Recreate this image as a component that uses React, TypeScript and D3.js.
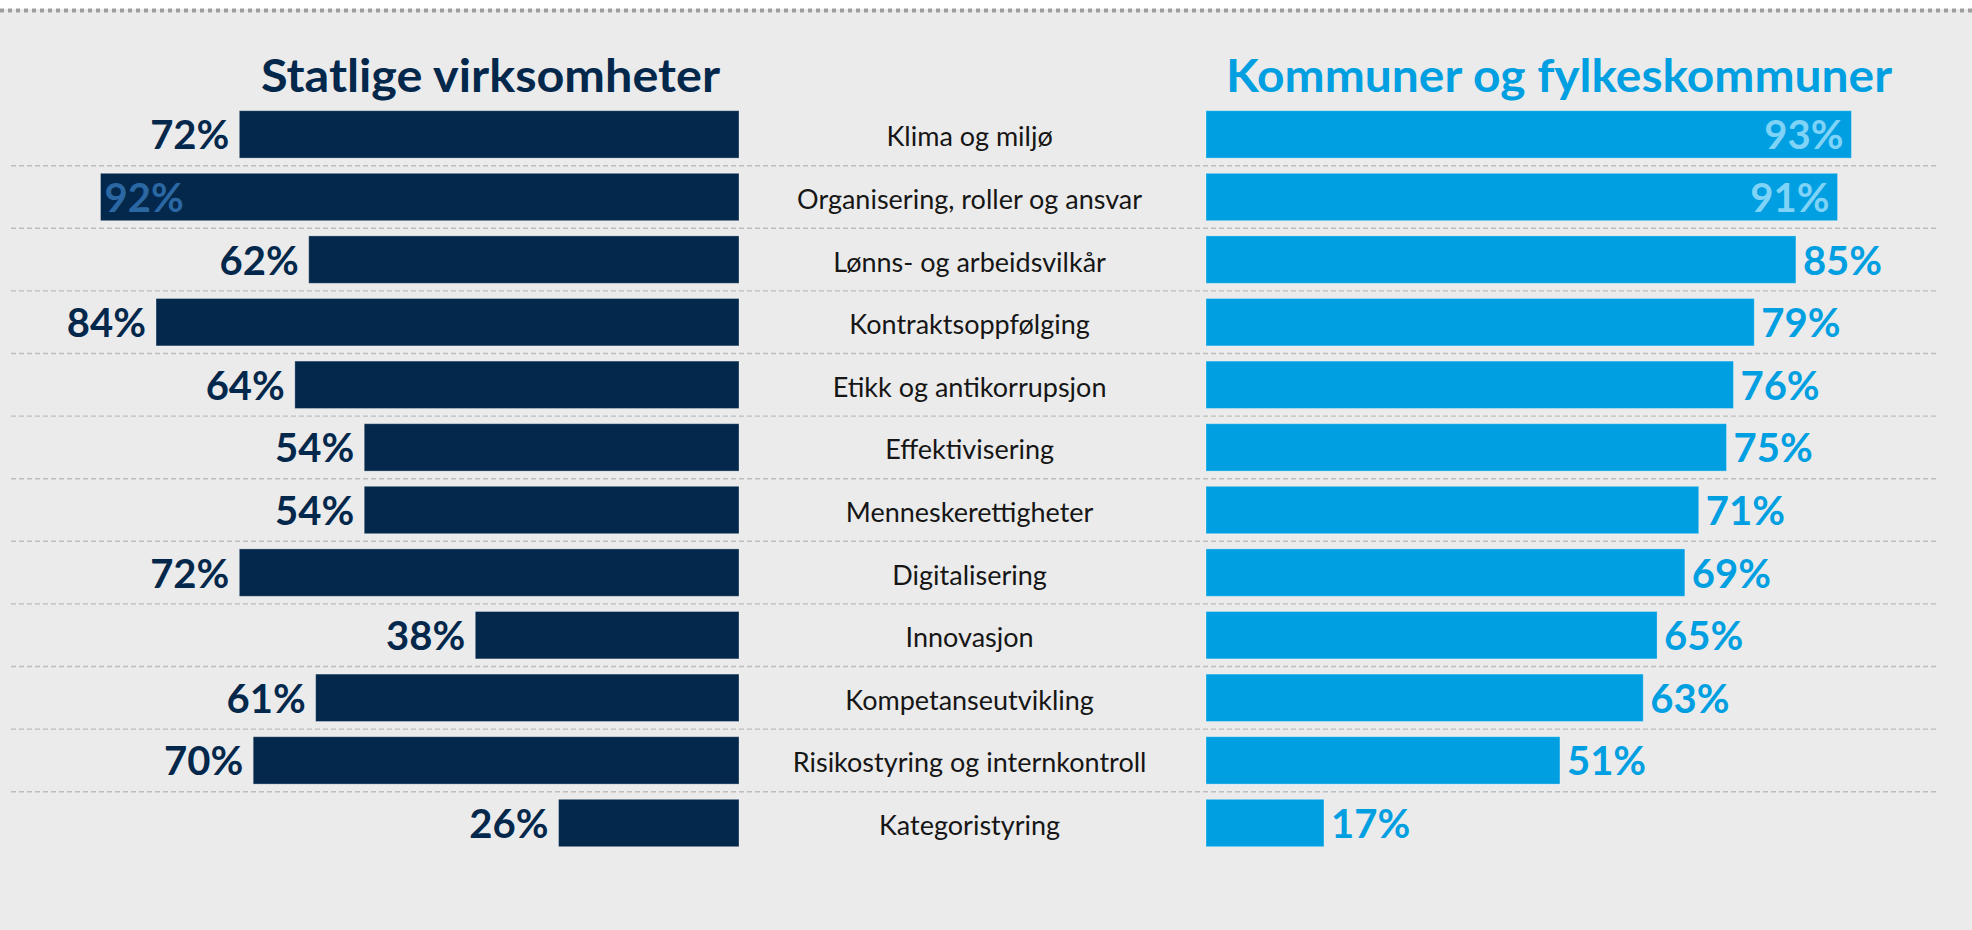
import * as d3 from "d3";

const categories = [
  "Klima og miljø",
  "Organisering, roller og ansvar",
  "Lønns- og arbeidsvilkår",
  "Kontraktsoppfølging",
  "Etikk og antikorrupsjon",
  "Effektivisering",
  "Menneskerettigheter",
  "Digitalisering",
  "Innovasjon",
  "Kompetanseutvikling",
  "Risikostyring og internkontroll",
  "Kategoristyring",
];
const statlige = [72, 92, 62, 84, 64, 54, 54, 72, 38, 61, 70, 26];
const kommuner = [93, 91, 85, 79, 76, 75, 71, 69, 65, 63, 51, 17];
const titles = ["Statlige virksomheter", "Kommuner og fylkeskommuner"];

const W = 1972;
const H = 930;
const dark = "#03284b";
const light = "#009fe1";
const FONT = "Lato, 'Open Sans', sans-serif";

export default function App() {
  const step = 62.6;
  const top = 103.1;
  const y = d3
    .scaleBand<string>()
    .domain(categories)
    .range([top, top + step * categories.length])
    .paddingInner(0.243)
    .paddingOuter(0.1215);

  // left panel grows leftwards from its right edge
  const xL = d3.scaleLinear().domain([0, 100]).range([739, 45]);
  const xR = d3.scaleLinear().domain([0, 100]).range([1206, 1900]);
  const midX = 969.6;
  const inside = 90;

  const seps = categories.slice(1).map((c) => (y(c) as number) - (y.step() * y.paddingInner()) / 2);

  return (
    <svg
      width={W}
      height={H}
      style={{ position: "absolute", left: 0, top: 0, display: "block" }}
      fontFamily={FONT}
    >
      <rect x={0} y={0} width={W} height={H} fill="#ebebeb" />
      <rect x={0} y={0} width={W} height={9} fill="#ffffff" />
      <line x1={0} x2={W} y1={10.5} y2={10.5} stroke="#9e9e9e" strokeWidth={4} strokeDasharray="4,4" />

      <text x={261} y={91.7} fontSize={45} fontWeight={700} fill={dark} textLength={459} lengthAdjust="spacingAndGlyphs">
        {titles[0]}
      </text>
      <text x={1226} y={91.7} fontSize={45} fontWeight={700} fill={light} textLength={666} lengthAdjust="spacingAndGlyphs">
        {titles[1]}
      </text>

      {seps.map((s, i) => (
        <line key={"s" + i} x1={11} x2={1939} y1={s} y2={s} stroke="#bdbdbd" strokeWidth={1.4} strokeDasharray="5,3" />
      ))}

      {categories.map((c, i) => {
        const by = y(c) as number;
        const bh = y.bandwidth();
        const cy = by + bh / 2;
        const vl = statlige[i];
        const vr = kommuner[i];
        const lIn = vl >= inside;
        const rIn = vr >= inside;
        return (
          <g key={c}>
            <rect x={xL(vl)} y={by} width={xL(0) - xL(vl)} height={bh} fill={dark} stroke="rgba(255,255,255,0.3)" strokeWidth={1} />
            <text
              x={lIn ? xL(vl) + 4 : xL(vl) - 10}
              y={cy + 15}
              textAnchor={lIn ? "start" : "end"}
              fontSize={40}
              fontWeight={700}
              fill={lIn ? "#2b67a3" : dark}
            >
              {vl}%
            </text>

            <text x={midX} y={cy + 12} textAnchor="middle" fontSize={27} fill="#161616">
              {c}
            </text>

            <rect x={xR(0)} y={by} width={xR(vr) - xR(0)} height={bh} fill={light} stroke="rgba(255,255,255,0.3)" strokeWidth={1} />
            <text
              x={rIn ? xR(vr) - 8 : xR(vr) + 7}
              y={cy + 15}
              textAnchor={rIn ? "end" : "start"}
              fontSize={40}
              fontWeight={700}
              fill={rIn ? "#7ed3f7" : light}
            >
              {vr}%
            </text>
          </g>
        );
      })}
    </svg>
  );
}
